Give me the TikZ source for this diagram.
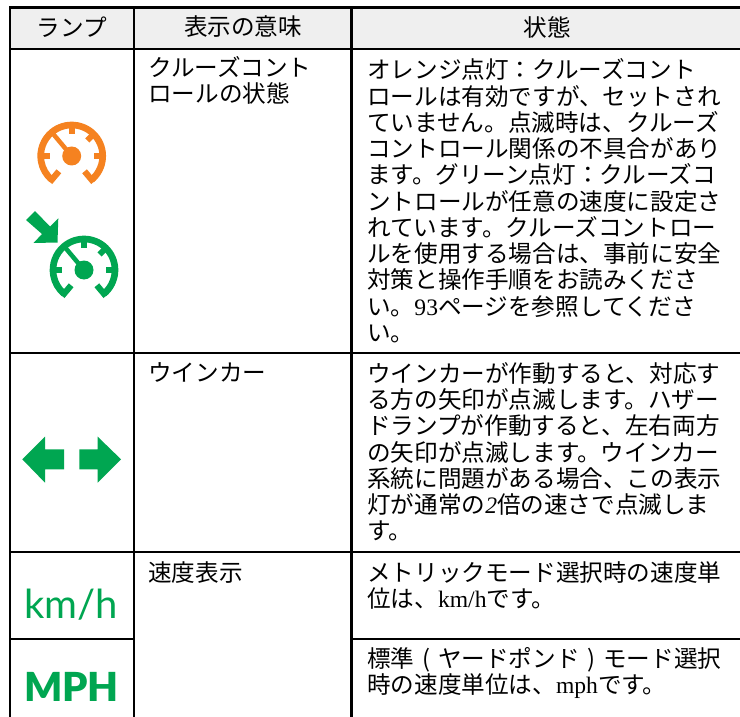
\documentclass[tikz,border=0pt]{standalone}
\usepackage{fontspec}
\setmainfont{Noto Sans CJK JP}
\newfontfamily\lat{Liberation Serif}
\newfontfamily\iconreg{Lato}
\newfontfamily\iconbold{Lato}[UprightFont=* Black]
\definecolor{lamporange}{HTML}{F58220}
\definecolor{lampgreen}{HTML}{00A651}
\definecolor{headgray}{HTML}{EFEFEF}
\newcommand{\gaugeicon}[3]{%
  \begin{scope}[shift={(#1,#2)},yscale=-1,draw=#3,fill=#3]
    \draw[line width=5pt] (-50:31) arc[start angle=-50,end angle=230,radius=31];
    \foreach \a in {0,45,90,180}{\draw[line width=4.4pt] (\a:31) -- (\a:22);}
    \draw[line width=4.6pt] (-130:34) -- (-130:20);
    \draw[line width=4.6pt] (-50:34) -- (-50:20);
    \draw[line width=3.4pt] (0,0) -- (130:30);
    \fill (0,0) circle[radius=9.5];
  \end{scope}}
\newcommand{\cparen}[1]{\makebox[1em][c]{#1}}
\tikzset{
  x=.75pt,y=-.75pt,
  rule/.style={line width=2.05pt,draw=black},
  cell/.style={anchor=north west,inner sep=0pt,align=left,font=\fontsize{17.7}{19.7}\selectfont},
  head/.style={anchor=center,inner sep=0pt,font=\fontsize{17.7}{19.7}\selectfont},
}
\begin{document}
\begin{tikzpicture}
\useasboundingbox (0,0) rectangle (740,717);
\fill[white] (0,0) rectangle (740,717);
\fill[headgray] (10,7.5) rectangle (740,49);
% rules
\draw[rule] (9,7.5) -- (740,7.5);
\draw[rule] (10,49) -- (740,49);
\draw[rule] (10,353) -- (740,353);
\draw[rule] (10,552) -- (740,552);
\draw[rule] (10,639) -- (134,639);
\draw[rule] (351.5,639) -- (740,639);
\draw[rule] (10,7.5) -- (10,717);
\draw[rule] (134,7.5) -- (134,717);
\draw[rule] (351.5,7.5) -- (351.5,717);
% header
\node[head] (h1) at (72,27) {ランプ};
\node[head] (h2) at (243,27) {表示の意味};
\node[head] (h3) at (547,27) {状態};
% column 2
\node[cell] (m1) at (148,56) {クルーズコント\\ロールの状態};
\node[cell] (m2) at (148,362) {ウインカー};
\node[cell] (m3) at (148,561) {速度表示};
% column 3
\node[cell] (s1) at (367,58.5) {オレンジ点灯：クルーズコント\\ロールは有効ですが、セットされ\\ていません。点滅時は、クルーズ\\コントロール関係の不具合があり\\ます。グリーン点灯：クルーズコ\\ントロールが任意の速度に設定さ\\れています。クルーズコントロー\\ルを使用する場合は、事前に安全\\対策と操作手順をお読みくださ\\い。{\lat 93}ページを参照してくださ\\い。};
\node[cell] (s2) at (367,362) {ウインカーが作動すると、対応す\\る方の矢印が点滅します。ハザー\\ドランプが作動すると、左右両方\\の矢印が点滅します。ウインカー\\系統に問題がある場合、この表示\\灯が通常の{\lat\itshape 2}倍の速さで点滅しま\\す。};
\node[cell] (s3) at (367,561) {メトリックモード選択時の速度単\\位は、{\lat km/h}です。};
\node[cell] (s4) at (367,647) {標準\cparen{(}ヤードポンド\cparen{)}モード選択\\時の速度単位は、{\lat mph}です。};
% icons
\gaugeicon{71.7}{156}{lamporange}
\gaugeicon{84}{270}{lampgreen}
\fill[lampgreen] (35,211) -- (50,226.5) -- (58.3,218.3) -- (57.5,242.5) -- (33.5,243) -- (42,234) -- (26,220) -- cycle;
\fill[lampgreen] (22.3,459.3) -- (45,436.7) -- (45,449.3) -- (64,449.3) -- (64,469.3) -- (45,469.3) -- (45,482.7) -- cycle;
\fill[lampgreen] (121,459.3) -- (97.7,436.7) -- (97.7,449.3) -- (79.3,449.3) -- (79.3,469.3) -- (97.7,469.3) -- (97.7,482.7) -- cycle;
\node[anchor=base,inner sep=0pt,text=lampgreen,font=\iconreg\fontsize{30}{30}\selectfont] (kmh) at (71,618) {km/h};
\node[anchor=base,inner sep=0pt,text=lampgreen,font=\iconbold\fontsize{30}{30}\selectfont] (mph) at (71.5,701) {MPH};
\end{tikzpicture}
\end{document}
